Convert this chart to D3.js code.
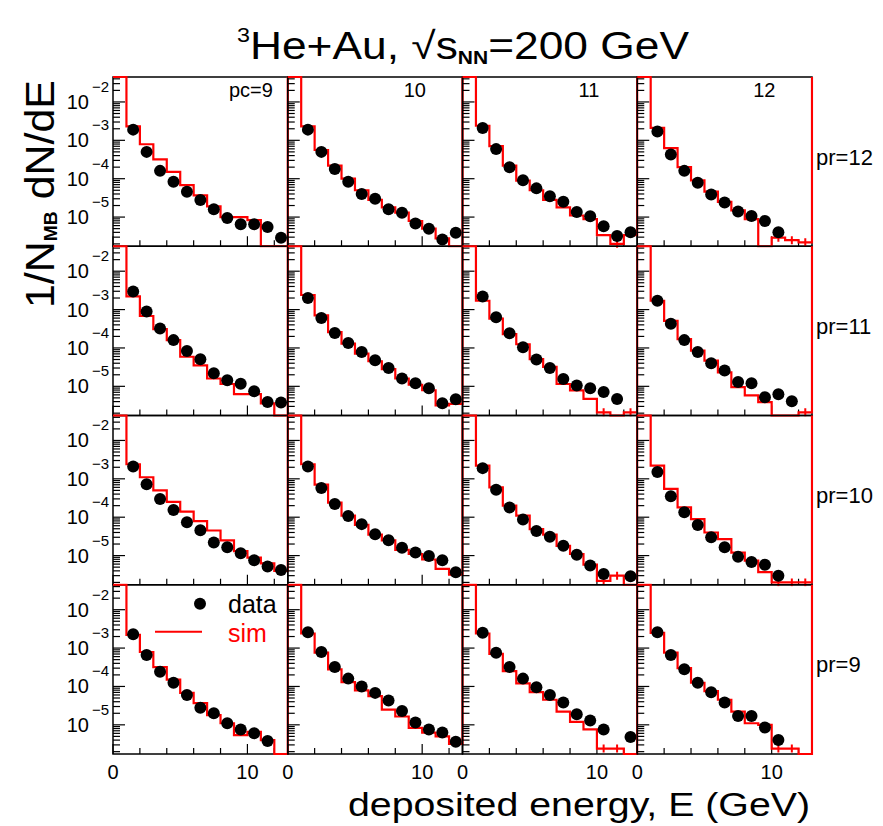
<!DOCTYPE html>
<html>
<head>
<meta charset="utf-8">
<script src="https://cdn.jsdelivr.net/npm/d3@7"></script>
<style>
  body { margin: 0; background: #fff; }
  svg { display: block; }
  text { font-family: "Liberation Sans", Arial, Helvetica, sans-serif; fill: #000; }
</style>
</head>
<body>
<div id="chart"></div>
<script>
// Grid: columns are pc = 9..12, rows are pr = 12..9 (top to bottom)
const colLabels = ['pc=9', '10', '11', '12'];
const rowLabels = ['pr=12', 'pr=11', 'pr=10', 'pr=9'];
const xTickLabels = [0, 10];
const xMinorTicks = [2, 4, 6, 8, 12];
const yMajorTicks = [1e-2, 1e-3, 1e-4, 1e-5];

// 1 GeV bins, 0..13 GeV
const binEdges = [0, 1, 2, 3, 4, 5, 6, 7, 8, 9, 10, 11, 12, 13];
const binCenters = [1.5, 2.5, 3.5, 4.5, 5.5, 6.5, 7.5, 8.5, 9.5, 10.5, 11.5, 12.5];

// data: 1/N_MB dN/dE at binCenters, one array per pc column (null = no point)
const dataPr12 = [
    [1.9e-3, 5.0e-4, 1.6e-4, 8.3e-5, 4.6e-5, 2.8e-5, 1.6e-5, 9.5e-6, 6.5e-6, 6.5e-6, 5.5e-6, 2.9e-6],
    [1.9e-3, 5.0e-4, 1.8e-4, 8.3e-5, 4.0e-5, 3.0e-5, 1.6e-5, 1.3e-5, 6.8e-6, 5.0e-6, 2.6e-6, 3.9e-6],
    [2.1e-3, 5.9e-4, 2.0e-4, 9.1e-5, 5.6e-5, 3.5e-5, 2.5e-5, 1.35e-5, 1.05e-5, 5.8e-6, 3.2e-6, 4.0e-6],
    [1.7e-3, 4.3e-4, 1.6e-4, 7.8e-5, 3.9e-5, 2.4e-5, 1.4e-5, 1.07e-5, 7.9e-6, 4.0e-6, null, null],
];
const dataPr11 = [
    [2.95e-3, 8.9e-4, 3.2e-4, 1.6e-4, 8.3e-5, 5.1e-5, 2.2e-5, 1.45e-5, 1.17e-5, 7.4e-6, 3.9e-6, 3.8e-6],
    [2.0e-3, 6.0e-4, 2.45e-4, 1.35e-4, 7.8e-5, 4.8e-5, 3.0e-5, 1.6e-5, 1.2e-5, 8.9e-6, 3.6e-6, 4.6e-6],
    [2.2e-3, 6.3e-4, 2.4e-4, 1.05e-4, 5.0e-5, 3.0e-5, 1.55e-5, 1.05e-5, 8.9e-6, 7.1e-6, 4.7e-6, null],
    [1.7e-3, 4.3e-4, 1.6e-4, 7.8e-5, 4.0e-5, 2.6e-5, 1.3e-5, 1.2e-5, 5.2e-6, 6.2e-6, 4.1e-6, null],
];
const dataPr10 = [
    [2.1e-3, 7.2e-4, 3.0e-4, 1.55e-4, 7.4e-5, 4.6e-5, 2.2e-5, 1.65e-5, 1.15e-5, 7.6e-6, 5.2e-6, 4.2e-6],
    [2.1e-3, 5.8e-4, 2.2e-4, 1.07e-4, 6.6e-5, 3.6e-5, 2.5e-5, 1.6e-5, 1.2e-5, 9.8e-6, 7.6e-6, 3.7e-6],
    [1.9e-3, 5.2e-4, 1.8e-4, 8.7e-5, 4.4e-5, 3.1e-5, 1.8e-5, 1.05e-5, 5.5e-6, 3.3e-6, null, 2.9e-6],
    [1.5e-3, 3.5e-4, 1.35e-4, 6.3e-5, 3.0e-5, 1.65e-5, 9.3e-6, 6.8e-6, 5.8e-6, 3.0e-6, null, null],
];
const dataPr9 = [
    [2.3e-3, 6.6e-4, 2.4e-4, 1.25e-4, 6.0e-5, 2.8e-5, 2.0e-5, 1.1e-5, 7.6e-6, 6.0e-6, 3.8e-6, null],
    [2.6e-3, 7.9e-4, 3.2e-4, 1.6e-4, 1.0e-4, 6.8e-5, 4.3e-5, 2.3e-5, 1.15e-5, 7.6e-6, 6.3e-6, 3.6e-6],
    [2.5e-3, 7.6e-4, 3.2e-4, 1.6e-4, 9.5e-5, 6.0e-5, 3.8e-5, 1.9e-5, 1.3e-5, 7.6e-6, null, 4.8e-6],
    [2.6e-3, 6.6e-4, 2.8e-4, 1.25e-4, 7.1e-5, 3.8e-5, 1.7e-5, 1.7e-5, 8.5e-6, 4.0e-6, null, null],
];

// sim: histogram contents per bin (binEdges), first bin [0,1] is off the top
const simPr12 = [
    [0.1, 2.3e-3, 7.9e-4, 3.2e-4, 1.5e-4, 6.8e-5, 3.7e-5, 1.9e-5, 1.0e-5, 1.0e-5, 8.3e-6, null, null],
    [0.1, 2.3e-3, 5.6e-4, 2.2e-4, 1.0e-4, 5.0e-5, 2.8e-5, 1.8e-5, 1.3e-5, 7.9e-6, 5.0e-6, 2.8e-6, null],
    [0.1, 2.4e-3, 7.1e-4, 2.2e-4, 8.9e-5, 5.0e-5, 2.8e-5, 1.8e-5, 1.1e-5, 8.9e-6, 3.4e-6, 2.0e-6, 3.4e-6],
    [0.1, 2.1e-3, 6.3e-4, 2.0e-4, 9.1e-5, 4.6e-5, 2.5e-5, 1.5e-5, 8.9e-6, null, 2.9e-6, 2.5e-6, 2.2e-6],
];
const simPr11 = [
    [0.1, 2.2e-3, 6.8e-4, 3.1e-4, 1.6e-4, 5.9e-5, 3.5e-5, 1.6e-5, 1.15e-5, 6.3e-6, 6.3e-6, 3.6e-6, null],
    [0.1, 2.4e-3, 7.1e-4, 2.6e-4, 1.3e-4, 7.1e-5, 4.5e-5, 2.8e-5, 1.6e-5, 1.1e-5, 7.9e-6, 3.2e-6, 3.5e-6],
    [0.1, 1.7e-3, 5.8e-4, 2.3e-4, 1.25e-4, 5.1e-5, 3.2e-5, 1.15e-5, 7.8e-6, 4.7e-6, 2.1e-6, null, 2.1e-6],
    [0.1, 1.7e-3, 5.1e-4, 1.7e-4, 8.5e-5, 4.7e-5, 2.3e-5, 9.5e-6, 5.8e-6, 3.9e-6, null, null, 2.1e-6],
];
const simPr10 = [
    [0.1, 2.4e-3, 1.1e-3, 5.0e-4, 2.5e-4, 1.4e-4, 7.9e-5, 4.5e-5, 2.5e-5, 1.3e-5, 8.9e-6, 6.3e-6, 4.0e-6],
    [0.1, 2.4e-3, 7.1e-4, 2.4e-4, 1.1e-4, 6.3e-5, 3.5e-5, 2.5e-5, 1.4e-5, 1.1e-5, 7.9e-6, 4.5e-6, 3.2e-6],
    [0.1, 2.2e-3, 6.0e-4, 2.0e-4, 1.1e-4, 4.9e-5, 3.5e-5, 1.8e-5, 1.1e-5, 5.8e-6, 2.2e-6, 3.0e-6, null],
    [0.1, 2.2e-3, 5.5e-4, 1.8e-4, 8.9e-5, 4.0e-5, 2.7e-5, 1.2e-5, 7.4e-6, 3.7e-6, 2.0e-6, 2.0e-6, 2.0e-6],
];
const simPr9 = [
    [0.1, 2.2e-3, 7.9e-4, 3.2e-4, 1.5e-4, 6.8e-5, 3.7e-5, 1.8e-5, 1.1e-5, 5.4e-6, 6.6e-6, 4.0e-6, null],
    [0.1, 2.4e-3, 7.6e-4, 2.8e-4, 1.3e-4, 7.9e-5, 5.6e-5, 2.5e-5, 1.65e-5, 8.3e-6, 6.3e-6, 5.0e-6, 3.2e-6],
    [0.1, 2.4e-3, 7.1e-4, 2.5e-4, 1.2e-4, 7.1e-5, 4.5e-5, 2.2e-5, 1.2e-5, 7.6e-6, 2.4e-6, 2.4e-6, null],
    [0.1, 2.5e-3, 7.6e-4, 3.0e-4, 1.25e-4, 7.6e-5, 4.5e-5, 2.2e-5, 1.1e-5, 1.0e-5, 2.4e-6, 2.4e-6, null],
];

const dataRows = [dataPr12, dataPr11, dataPr10, dataPr9];
const simRows = [simPr12, simPr11, simPr10, simPr9];

// ─── Layout ───
const W = 883, H = 826;
const frame = { left: 113, right: 812, top: 77, bottom: 754 };
const colW = (frame.right - frame.left) / 4;
const rowH = (frame.bottom - frame.top) / 4;

const svg = d3.select('#chart').append('svg')
    .attr('width', W)
    .attr('height', H)
    .attr('viewBox', `0 0 ${W} ${H}`);

svg.append('rect').attr('width', W).attr('height', H).attr('fill', '#fff');

svg.append('defs').append('clipPath').attr('id', 'pad-clip')
    .append('rect')
    .attr('x', -1.5).attr('y', -1.5)
    .attr('width', colW + 3).attr('height', rowH + 3);

const x = d3.scaleLinear().domain([0, 13]).range([0, colW]);
const y = d3.scaleLog()
    .domain([Math.pow(10, -5.76), Math.pow(10, -1.35)])
    .range([rowH, 0])
    .clamp(true);
const yMin = y.domain()[0];

// minor log ticks 2..9 x 10^n inside the domain
const yMinorTicks = [];
for (let n = -6; n <= -2; n++) {
    for (let k = 2; k <= 9; k++) {
        const v = k * Math.pow(10, n);
        if (v > y.domain()[0] && v < y.domain()[1]) yMinorTicks.push(v);
    }
}

const histLine = d3.line()
    .x(d => x(d[0]))
    .y(d => y(d[1] == null ? yMin : d[1]))
    .curve(d3.curveStepAfter);

for (let r = 0; r < 4; r++) {
    for (let c = 0; c < 4; c++) {
        const g = svg.append('g')
            .attr('transform', `translate(${frame.left + c * colW},${frame.top + r * rowH})`);

        // frame
        g.append('rect')
            .attr('width', colW).attr('height', rowH)
            .attr('fill', 'none').attr('stroke', '#000').attr('stroke-width', 1.5);

        // y ticks (inward from the left edge)
        g.selectAll('.ymaj').data(yMajorTicks).join('line')
            .attr('x1', 0).attr('x2', 12)
            .attr('y1', d => y(d)).attr('y2', d => y(d))
            .attr('stroke', '#000').attr('stroke-width', 1.2);
        g.selectAll('.ymin').data(yMinorTicks).join('line')
            .attr('x1', 0).attr('x2', 7)
            .attr('y1', d => y(d)).attr('y2', d => y(d))
            .attr('stroke', '#000').attr('stroke-width', 1.2);

        // x ticks (upward from the bottom edge)
        g.selectAll('.xmaj').data(xTickLabels).join('line')
            .attr('x1', d => x(d)).attr('x2', d => x(d))
            .attr('y1', rowH).attr('y2', rowH - 10)
            .attr('stroke', '#000').attr('stroke-width', 1.2);
        g.selectAll('.xmin').data(xMinorTicks).join('line')
            .attr('x1', d => x(d)).attr('x2', d => x(d))
            .attr('y1', rowH).attr('y2', rowH - 6)
            .attr('stroke', '#000').attr('stroke-width', 1.2);

        // sim histogram
        const sim = simRows[r][c];
        const pts = sim.map((v, i) => [binEdges[i], v]);
        pts.push([binEdges[binEdges.length - 1], sim[sim.length - 1]]);
        pts.push([binEdges[binEdges.length - 1], y.domain()[1]]);
        const clipped = g.append('g').attr('clip-path', 'url(#pad-clip)');
        clipped.append('path')
            .attr('d', histLine(pts))
            .attr('fill', 'none')
            .attr('stroke', '#ff0000')
            .attr('stroke-width', 2.2);

        // error crosses on the sparsely filled tail bins
        const lowBins = sim.map((v, i) => ({ v, xc: binEdges[i] + 0.5 }))
            .filter(d => d.v != null && d.v <= 3.0e-6);
        clipped.selectAll('.err').data(lowBins).join('line')
            .attr('x1', d => x(d.xc)).attr('x2', d => x(d.xc))
            .attr('y1', d => y(d.v) - 4).attr('y2', d => y(d.v) + 4)
            .attr('stroke', '#ff0000').attr('stroke-width', 2);

        // data points
        const pts2 = dataRows[r][c].map((v, i) => ({ x: binCenters[i], v }))
            .filter(d => d.v != null);
        g.selectAll('.dot').data(pts2).join('circle')
            .attr('cx', d => x(d.x))
            .attr('cy', d => y(d.v))
            .attr('r', 6)
            .attr('fill', '#000');

        // y tick labels on the first column
        if (c === 0) {
            yMajorTicks.forEach(t => {
                const exp = Math.round(Math.log10(t));
                g.append('text')
                    .attr('x', -24).attr('y', y(t) + 7)
                    .attr('text-anchor', 'end')
                    .style('font-size', '20px')
                    .text('10');
                g.append('text')
                    .attr('x', -21).attr('y', y(t) - 10)
                    .style('font-size', '15px')
                    .text('\u2212' + Math.abs(exp));
            });
        }

        // x tick labels on the bottom row
        if (r === 3) {
            g.selectAll('.xlab').data(xTickLabels).join('text')
                .attr('x', d => x(d)).attr('y', rowH + 25)
                .attr('text-anchor', 'middle')
                .style('font-size', '20px')
                .text(d => d);
        }

        // column labels on the top row
        if (r === 0) {
            g.append('text')
                .attr('x', 116).attr('y', 20)
                .style('font-size', '20px')
                .text(colLabels[c]);
        }
    }
}

// row labels on the right
rowLabels.forEach((lab, r) => {
    svg.append('text')
        .attr('x', frame.right + 4)
        .attr('y', frame.top + r * rowH + rowH / 2 + 3)
        .style('font-size', '22px')
        .text(lab);
});

// legend in the bottom-left pad
const leg = svg.append('g')
    .attr('transform', `translate(${frame.left},${frame.top + 3 * rowH})`);
leg.append('circle').attr('cx', 87).attr('cy', 19).attr('r', 6).attr('fill', '#000');
leg.append('text').attr('x', 115).attr('y', 28).style('font-size', '25px').text('data');
leg.append('line').attr('x1', 42).attr('x2', 89).attr('y1', 47).attr('y2', 47)
    .attr('stroke', '#ff0000').attr('stroke-width', 2.2);
leg.append('text').attr('x', 115).attr('y', 57).style('font-size', '25px')
    .style('fill', '#ff0000').text('sim');

// ─── Titles ───
const title = svg.append('text')
    .attr('x', 463).attr('y', 59)
    .attr('text-anchor', 'middle')
    .attr('textLength', 452)
    .attr('lengthAdjust', 'spacingAndGlyphs')
    .style('font-size', '38px');
title.append('tspan').style('font-size', '20px').attr('dy', -17).text('3');
title.append('tspan').attr('dy', 17).text('He+Au, \u221As');
title.append('tspan').style('font-size', '18px').style('font-weight', 'bold').attr('dy', 5).text('NN');
title.append('tspan').attr('dy', -5).text('=200 GeV');

const yTitle = svg.append('text')
    .attr('transform', 'translate(54,194) rotate(-90)')
    .attr('text-anchor', 'middle')
    .attr('textLength', 228)
    .attr('lengthAdjust', 'spacingAndGlyphs')
    .style('font-size', '40px');
yTitle.append('tspan').text('1/N');
yTitle.append('tspan').style('font-size', '18px').style('font-weight', 'bold').attr('dy', 3).text('MB');
yTitle.append('tspan').attr('dy', -3).text(' dN/dE');

svg.append('text')
    .attr('x', 810).attr('y', 816)
    .attr('text-anchor', 'end')
    .attr('textLength', 462)
    .attr('lengthAdjust', 'spacingAndGlyphs')
    .style('font-size', '34px')
    .text('deposited energy, E (GeV)');
</script>
</body>
</html>
